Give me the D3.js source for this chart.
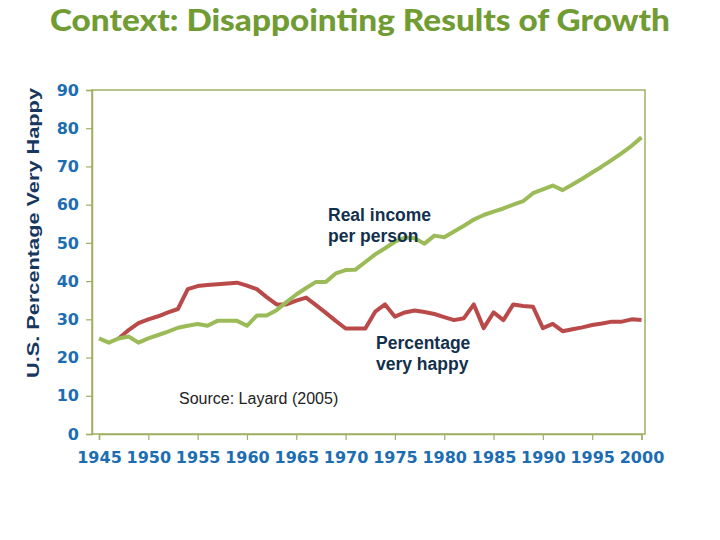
<!DOCTYPE html>
<html>
<head>
<meta charset="utf-8">
<script src="https://cdn.jsdelivr.net/npm/d3@7"></script>
<style>
  body { margin: 0; background: #fff; }
  svg { display: block; }
</style>
</head>
<body>
<div id="chart"></div>
<script>
var w = 720;
var h = 540;

// values
var incomeYears = d3.range(1945, 2001);
var incomeValues = [
  25.0, 23.9, 25.0, 25.5, 23.9, 25.0, 25.9, 26.8, 27.8, 28.3,
  28.8, 28.3, 29.6, 29.6, 29.6, 28.3, 31.0, 31.0, 32.4, 34.5,
  36.5, 38.2, 39.8, 39.8, 42.0, 42.9, 43.0, 45.0, 47.0, 48.6,
  50.3, 51.4, 51.2, 49.8, 51.9, 51.5, 53.0, 54.5, 56.1, 57.3,
  58.2, 59.0, 60.0, 60.9, 63.0, 64.0, 65.0, 63.8, 65.3, 66.8,
  68.4, 70.0, 71.7, 73.5, 75.4, 77.6
];
var happyYears = d3.range(1947, 2001);
var happyValues = [
  25.0, 27.2, 29.0, 30.0, 30.8, 31.8, 32.7, 37.9, 38.7, 39.0,
  39.2, 39.4, 39.6, 38.8, 37.9, 35.8, 33.9, 33.9, 34.9, 35.7,
  33.7, 31.7, 29.6, 27.6, 27.6, 27.6, 32.0, 33.9, 30.7, 31.8,
  32.3, 31.9, 31.4, 30.6, 29.8, 30.3, 33.9, 27.7, 31.8, 29.8,
  33.9, 33.5, 33.3, 27.7, 28.8, 26.9, 27.4, 27.9, 28.5, 28.9,
  29.4, 29.4, 30.0, 29.8
];
var yTicks = [0, 10, 20, 30, 40, 50, 60, 70, 80, 90];
var xTicks = [1945, 1950, 1955, 1960, 1965, 1970, 1975, 1980, 1985, 1990, 1995, 2000];

var income = incomeYears.map((d, i) => ({ year: d, value: incomeValues[i] }));
var happy = happyYears.map((d, i) => ({ year: d, value: happyValues[i] }));

var plot = { left: 92, right: 645, top: 90, bottom: 434 };
var axisColor = '#9fb063';
var tickColor = '#1d6db2';

var svg = d3.select("#chart")
  .append("svg")
  .attr("width", w)
  .attr("height", h);

var x = d3.scaleLinear()
  .domain([1945, 2000])
  .range([99, 641.5]);

var y = d3.scaleLinear()
  .domain([0, 90])
  .range([plot.bottom, plot.top]);

//title
svg.append('text')
  .attr('x', 50)
  .attr('y', 31)
  .attr('textLength', 620)
  .attr('lengthAdjust', 'spacingAndGlyphs')
  .style('font-family', 'Lato, "Open Sans", sans-serif')
  .style('font-weight', 900)
  .style('font-size', '30px')
  .style('fill', '#719b33')
  .text('Context: Disappointing Results of Growth');

//plot frame
svg.append('rect')
  .attr('x', plot.left)
  .attr('y', plot.top)
  .attr('width', plot.right - plot.left)
  .attr('height', plot.bottom - plot.top)
  .style('fill', 'none')
  .style('stroke', axisColor)
  .style('stroke-width', 1.5);

var yAxis = svg.append('g')
  .attr('transform', 'translate(' + plot.left + ',0)')
  .call(d3.axisLeft(y).tickValues(yTicks).tickSize(6).tickPadding(7));

var xAxis = svg.append('g')
  .attr('transform', 'translate(0,' + plot.bottom + ')')
  .call(d3.axisBottom(x).tickValues(xTicks).tickFormat(d3.format('d')).tickSize(6).tickPadding(12));

[yAxis, xAxis].forEach(g => {
  g.select('.domain').style('stroke', axisColor).style('stroke-width', 1.5);
  g.selectAll('.tick line').style('stroke', axisColor).style('stroke-width', 1.2);
  g.selectAll('.tick text')
    .style('font-family', '"DejaVu Sans", Verdana, sans-serif')
    .style('font-weight', 'bold')
    .style('font-size', '16px')
    .style('fill', tickColor);
});

var line = d3.line()
  .x(d => x(d.year))
  .y(d => y(d.value));

svg.append('path')
  .datum(happy)
  .attr('d', line)
  .style('fill', 'none')
  .style('stroke', '#ba4a49')
  .style('stroke-width', 4)
  .style('stroke-linejoin', 'round');

svg.append('path')
  .datum(income)
  .attr('d', line)
  .style('fill', 'none')
  .style('stroke', '#9bbb59')
  .style('stroke-width', 4)
  .style('stroke-linejoin', 'round');

//y axis title
svg.append('text')
  .attr('transform', 'translate(39,233) rotate(-90)')
  .attr('text-anchor', 'middle')
  .attr('textLength', 290)
  .attr('lengthAdjust', 'spacingAndGlyphs')
  .style('font-family', '"Liberation Sans", Arial, sans-serif')
  .style('font-weight', 'bold')
  .style('font-size', '17px')
  .style('fill', '#17375e')
  .text('U.S. Percentage Very Happy');

//annotations
function note(lines, x0, y0) {
  var t = svg.append('text')
    .style('font-family', '"Liberation Sans", Arial, sans-serif')
    .style('font-weight', 'bold')
    .style('font-size', '17.5px')
    .style('fill', '#13304d');
  lines.forEach((s, i) => {
    t.append('tspan')
      .attr('x', x0)
      .attr('y', y0 + i * 21)
      .text(s);
  });
}
note(['Real income', 'per person'], 328, 221);
note(['Percentage', 'very happy'], 376, 349);

svg.append('text')
  .attr('x', 179)
  .attr('y', 404)
  .style('font-family', '"Liberation Sans", Arial, sans-serif')
  .style('font-size', '16px')
  .style('fill', '#222')
  .text('Source: Layard (2005)');
</script>
</body>
</html>
